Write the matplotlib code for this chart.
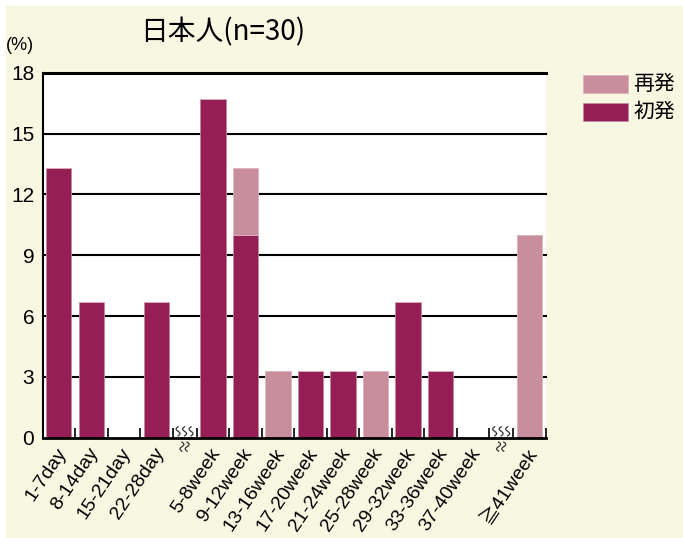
import numpy as np
import matplotlib
matplotlib.use("Agg")
import matplotlib.pyplot as plt
from matplotlib import transforms
from matplotlib.patches import Rectangle

categories = ["1-7day", "8-14day", "15-21day", "22-28day",
              "5-8week", "9-12week", "13-16week", "17-20week", "21-24week",
              "25-28week", "29-32week", "33-36week", "37-40week", "≧41week"]
first_onset = [13.3, 6.7, 0, 6.7, 16.7, 10.0, 0, 3.3, 3.3, 0, 6.7, 3.3, 0, 0]
recurrence = [0, 0, 0, 0, 0, 3.3, 3.3, 0, 0, 3.3, 0, 0, 0, 10.0]
yticks = [0, 3, 6, 9, 12, 15, 18]
title = "日本人(n=30)"
legend_labels = ["再発", "初発"]

DARK = "#951f55"
LIGHT = "#c98e9d"
CREAM = "#f8f7e1"
FONT = ["Liberation Sans", "Noto Sans CJK JP"]
JFONT = ["Noto Sans CJK JP", "Liberation Sans"]

W, H = 683, 538
fig = plt.figure(figsize=(W / 100, H / 100), dpi=100)
fig.patch.set_facecolor("white")
fig.patches.append(Rectangle((6 / W, 0), 1, 1 - 6 / H, transform=fig.transFigure,
                             facecolor=CREAM, edgecolor="none", zorder=-10))

# slot layout: 4 day slots, break, 9 week slots, break, 1 slot
BRK = 0.74
starts = []
x = 0.0
for i in range(len(categories)):
    if i == 4 or i == 13:
        x += BRK
    starts.append(x)
    x += 1.0
xmax = x
centers = np.array(starts) + 0.5

left, right = 42.5 / W, 545.7 / W
bottom, top = 1 - 437.7 / H, 1 - 72.7 / H
ax = fig.add_axes([left, bottom, right - left, top - bottom])
ax.set_facecolor("white")

bw = 0.78
ax.bar(centers, first_onset, width=bw, color=DARK, edgecolor="#c48aa0", linewidth=0.6, zorder=3)
ax.bar(centers, recurrence, width=bw, bottom=first_onset, color=LIGHT, edgecolor="#dcb3bf",
       linewidth=0.6, zorder=3)

ax.set_xlim(0, xmax)
ax.set_ylim(0, 18)
ax.set_yticks(yticks)
ax.set_yticklabels([str(v) for v in yticks], fontsize=15, family=FONT)
ax.tick_params(axis="y", length=0, pad=6)
for v in yticks[1:]:
    ax.axhline(v, color="black", lw=1.5 if v < 18 else 2.2, zorder=2, clip_on=False)

# tick marks at slot boundaries (inside)
bounds = sorted(set([s for s in starts[1:]] + [s + 1 for s in starts]))
ax.set_xticks(bounds)
ax.set_xticklabels([])
ax.tick_params(axis="x", direction="in", length=7, width=1.2, color="black")
for c, lab in zip(centers, categories):
    ax.text(c + 0.12, -0.6, lab, rotation=56, rotation_mode="anchor", ha="right", va="center",
            fontsize=14, family=FONT, transform=ax.transData, clip_on=False)

for s in ["top", "right"]:
    ax.spines[s].set_visible(False)
ax.spines["left"].set_linewidth(1.5)
ax.spines["bottom"].set_linewidth(2)
ax.spines["bottom"].set_zorder(5)

# break marks
tr = transforms.blended_transform_factory(ax.transData, ax.transAxes)
t = np.linspace(0, 1, 30)
for b0 in [4.0, 13.74]:
    mid = b0 + BRK / 2
    for dx in (-0.2, 0.0, 0.2):
        ax.plot(mid + dx + 0.06 * np.sin(2 * np.pi * t), 0.005 + 0.025 * t, color="#333333",
                lw=0.9, transform=tr, clip_on=False, zorder=4)
    for dx in (-0.08, 0.08):
        ax.plot(mid + dx + 0.06 * np.sin(2 * np.pi * t), -0.012 - 0.025 * t, color="#333333",
                lw=0.9, transform=tr, clip_on=False, zorder=4)

fig.text(223 / W, 1 - 32 / H, title, fontsize=20, family=JFONT, ha="center", va="center")
fig.text(6 / W, 1 - 45 / H, "(%)", fontsize=13, family=FONT, ha="left", va="center")

# legend
for i, (lab, col, ec) in enumerate(zip(legend_labels, [LIGHT, DARK], ["#dcb3bf", "#c48aa0"])):
    y0 = 75 + i * 28
    fig.patches.append(Rectangle((583 / W, 1 - (y0 + 18) / H), 45 / W, 18 / H,
                                 transform=fig.transFigure, facecolor=col, edgecolor=ec, lw=0.6))
    fig.text(633 / W, 1 - (y0 + 9) / H, lab, fontsize=15, family=JFONT, ha="left", va="center")

fig.savefig("out.png", dpi=100, facecolor=fig.get_facecolor())
